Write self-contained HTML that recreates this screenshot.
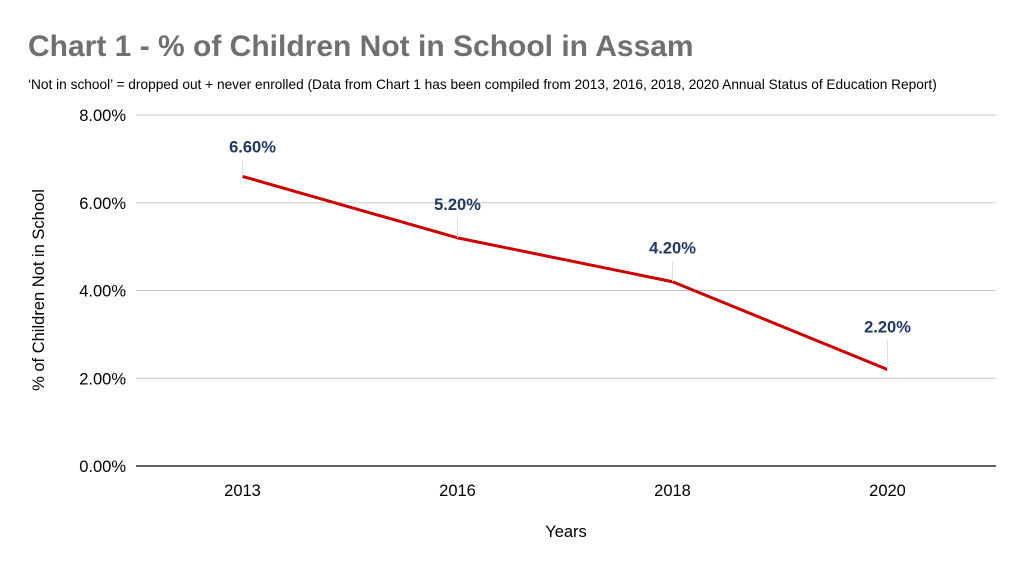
<!DOCTYPE html>
<html><head><meta charset="utf-8"><style>
body{margin:0;background:#fff;}
svg{display:block;font-family:"Liberation Sans",sans-serif;}
</style></head><body>
<svg width="1024" height="568" viewBox="0 0 1024 568">
<text x="28" y="56" font-size="30" font-weight="bold" fill="#707070">Chart 1 - % of Children Not in School in Assam</text>
<text x="28" y="89" font-size="13.7" fill="#000">‘Not in school’ = dropped out + never enrolled (Data from Chart 1 has been compiled from 2013, 2016, 2018, 2020 Annual Status of Education Report)</text>
<g id="grid"></g><g id="yt"></g><g id="xt"></g><g id="series"></g><g id="labels"></g>
<text transform="translate(44,290) rotate(-90)" text-anchor="middle" font-size="16.5" fill="#000">% of Children Not in School</text>
<text x="566" y="537" text-anchor="middle" font-size="16.5" fill="#000">Years</text>
</svg>
<script>
const categories=["2013","2016","2018","2020"];
const values=[6.6,5.2,4.2,2.2];
const valueLabels=["6.60%","5.20%","4.20%","2.20%"];
const yTicks=[0,2,4,6,8];
const yTickLabels=["0.00%","2.00%","4.00%","6.00%","8.00%"];
const labelDy=[24,28,28,37];
const labelDx=[10,0,0,0];
const NS="http://www.w3.org/2000/svg";
const x0=136,x1=996,y0=466,y1=115;
const band=(x1-x0)/categories.length;
const xs=i=>x0+band*(i+0.5)-1;
const ys=v=>y0-(v/8)*(y0-y1);
function mk(t,a,p){const e=document.createElementNS(NS,t);for(const k in a)e.setAttribute(k,a[k]);p.appendChild(e);return e;}
const grid=document.getElementById('grid'),yt=document.getElementById('yt'),xt=document.getElementById('xt');
yTicks.forEach((v,i)=>{
 const l=mk('line',{x1:x0,x2:x1,y1:ys(v),y2:ys(v),stroke:v===0?'#000':'#c8c8c8','stroke-width':v===0?1.3:1},grid);
 
 
 const t=mk('text',{x:126,y:ys(v)+6,'text-anchor':'end','font-size':16.5,fill:'#000'},yt);
 t.textContent=yTickLabels[i];
 
 
});
categories.forEach((c,i)=>{
 const t=mk('text',{x:xs(i),y:496,'text-anchor':'middle','font-size':16.5,fill:'#000'},xt);
 t.textContent=c;
 
 
});
const pl=mk('polyline',{points:values.map((v,i)=>xs(i)+','+ys(v)).join(' '),fill:'none',stroke:'#cc0000','stroke-width':3,'stroke-linejoin':'round'},document.getElementById('series'));


const lg=document.getElementById('labels');
values.forEach((v,i)=>{
 const ln=mk('line',{x1:xs(i),x2:xs(i),y1:ys(v),y2:ys(v)-labelDy[i]+8,stroke:'#e0e0e0','stroke-width':1},lg);
 
 
 const t=mk('text',{x:xs(i)+labelDx[i],y:ys(v)-labelDy[i],'text-anchor':'middle','font-size':16.5,'font-weight':'bold',fill:'#1f3864'},lg);
 t.textContent=valueLabels[i];
 
 
});
</script>
</body></html>
